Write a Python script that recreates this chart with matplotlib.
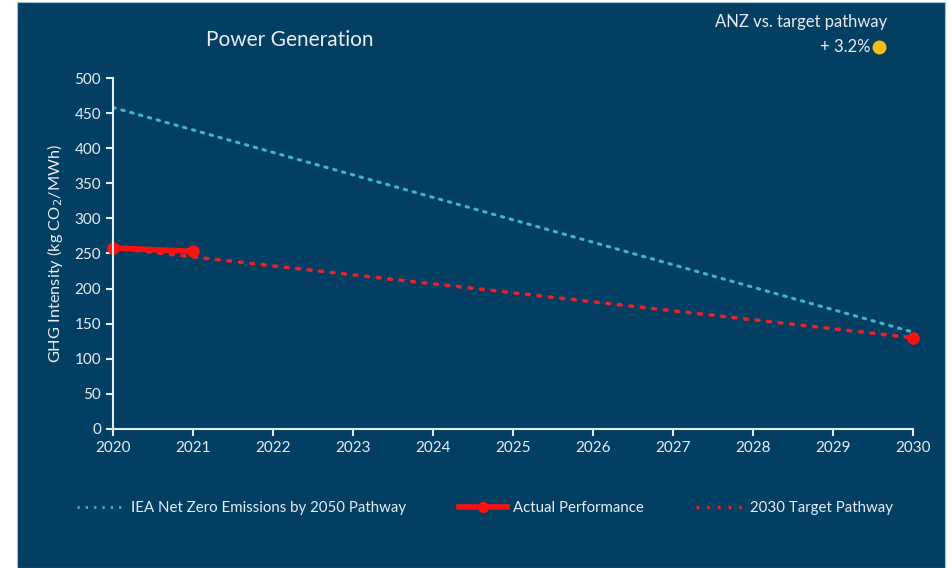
import matplotlib.pyplot as plt
from matplotlib.patches import Rectangle
from matplotlib.lines import Line2D

plt.rcParams["font.family"] = ["Lato", "DejaVu Sans"]

# ── Data ────────────────────────────────────────────────
iea_years = [2020, 2030]
iea_values = [458, 138]

actual_years = [2020, 2021]
actual_values = [258, 253]

target_years = [2020, 2030]
target_values = [258, 130]

x_ticks = list(range(2020, 2031))
y_ticks = list(range(0, 501, 50))

BG = "#033f63"
FG = "#e6edf2"
CYAN = "#3fb6c6"
RED = "#ff1010"
TRED = "#e8202a"

fig = plt.figure(figsize=(9.49, 5.68), dpi=100, facecolor="white")
fig.patches.append(Rectangle((17 / 949, 0), (945 - 17) / 949, 1 - 2 / 568,
                             transform=fig.transFigure, facecolor=BG,
                             edgecolor="#9fc3d6", linewidth=0.8, zorder=-10))

ax = fig.add_axes([113 / 949, 1 - 429 / 568, 800 / 949, 351 / 568])
ax.set_facecolor(BG)

# ── Lines ───────────────────────────────────────────────
ax.plot(iea_years, iea_values, color=CYAN, linewidth=2.2,
        linestyle=(0, (0.8, 2.2)), dash_capstyle="round")
ax.plot(target_years, target_values, color=TRED, linewidth=2.6,
        linestyle=(0, (0.8, 2.4)), dash_capstyle="round")
ax.plot(target_years[-1:], target_values[-1:], "o", color=RED, markersize=8,
        clip_on=False)
ax.plot(actual_years, actual_values, color=RED, linewidth=4,
        marker="o", markersize=8, solid_capstyle="round", clip_on=False)

# ── Axes ────────────────────────────────────────────────
ax.set_xlim(2020, 2030)
ax.set_ylim(0, 500)
ax.set_xticks(x_ticks)
ax.set_yticks(y_ticks)
for s in ["top", "right"]:
    ax.spines[s].set_visible(False)
for s in ["left", "bottom"]:
    ax.spines[s].set_color(FG)
    ax.spines[s].set_linewidth(1.5)
ax.tick_params(colors=FG, labelsize=11, length=5, width=1.5)
ax.tick_params(axis="x", pad=4)
ax.set_ylabel("GHG Intensity (kg CO$_2$/MWh)", color=FG, fontsize=11.8, labelpad=7)

# ── Titles ──────────────────────────────────────────────
fig.text(290 / 949, 1 - 40 / 568, "Power Generation", color=FG,
         fontsize=15, ha="center", va="center")
fig.text(887 / 949, 1 - 22 / 568, "ANZ vs. target pathway", color=FG,
         fontsize=12, ha="right", va="center")
fig.text(870 / 949, 1 - 47 / 568, "+ 3.2%", color=FG,
         fontsize=12, ha="right", va="center")
fig.add_artist(Line2D([879 / 949], [1 - 47 / 568], marker="o", color="#ffc000",
                      markersize=9, transform=fig.transFigure))

# ── Legend ──────────────────────────────────────────────
handles = [
    Line2D([], [], color=CYAN, linewidth=2, linestyle=(0, (0.8, 2.2))),
    Line2D([], [], color=RED, linewidth=4, marker="o", markersize=7),
    Line2D([], [], color=TRED, linewidth=2.4, linestyle=(0, (0.8, 2.4))),
]
labels = ["IEA Net Zero Emissions by 2050 Pathway", "Actual Performance",
          "2030 Target Pathway"]
fig.legend(handles, labels, loc="center", bbox_to_anchor=(485 / 949, 1 - 508 / 568),
           ncol=3, frameon=False, fontsize=10.8, labelcolor=FG,
           handlelength=3.2, columnspacing=3.5, handletextpad=0.4)

plt.savefig("out.png", dpi=100, facecolor=fig.get_facecolor())
